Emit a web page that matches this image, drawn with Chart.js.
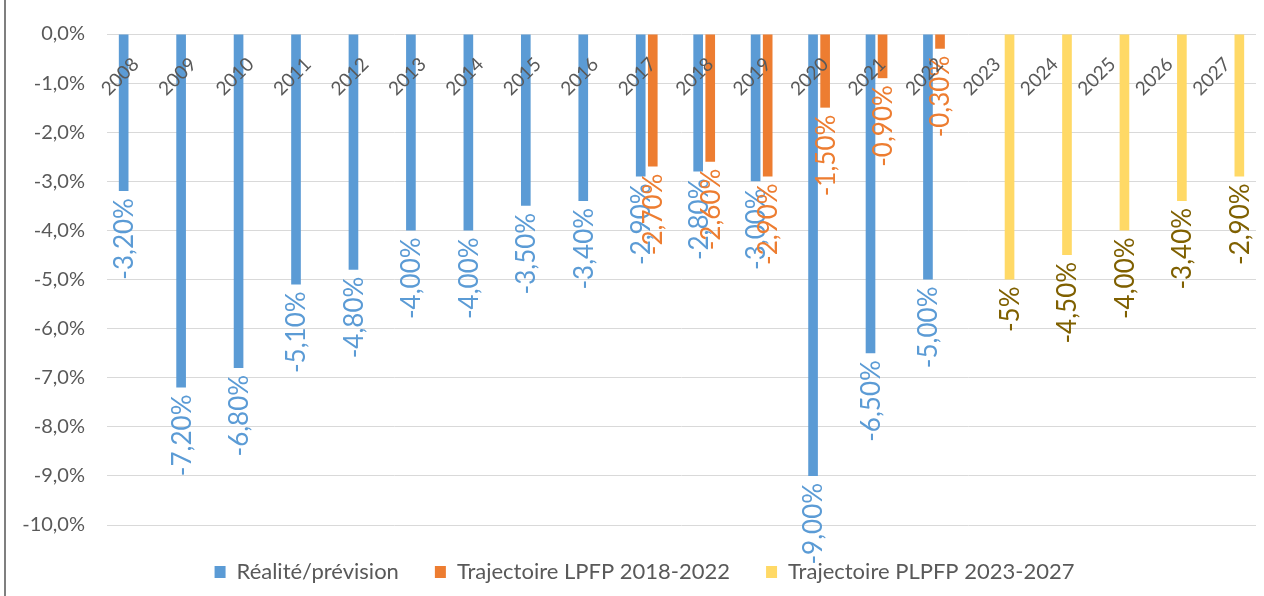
<!DOCTYPE html>
<html lang="fr">
<head>
<meta charset="utf-8">
<title>Déficit public</title>
<script src="https://cdn.jsdelivr.net/npm/chart.js@4/dist/chart.umd.min.js"></script>
<style>
  html, body { margin: 0; padding: 0; background: #fff; overflow: hidden; }
  .cadre { position: absolute; left: 4px; top: 0; width: 2px; height: 596px; background: #7f7f7f; }
  .zone { position: absolute; left: 6px; top: 0; width: 1277px; height: 593px; }
</style>
</head>
<body>
<div class="cadre"></div>
<div class="zone"><canvas id="graphique"></canvas></div>
<script>
//données (en % du PIB)
const annees = ['2008','2009','2010','2011','2012','2013','2014','2015','2016','2017',
                '2018','2019','2020','2021','2022','2023','2024','2025','2026','2027']
const realite = [-3.2, -7.2, -6.8, -5.1, -4.8, -4.0, -4.0, -3.5, -3.4, -2.9,
                 -2.8, -3.0, -9.0, -6.5, -5.0, null, null, null, null, null]
const lpfp = [null, null, null, null, null, null, null, null, null, -2.7,
              -2.6, -2.9, -1.5, -0.9, -0.3, null, null, null, null, null]
const plpfp = [null, null, null, null, null, null, null, null, null, null,
               null, null, null, null, null, -5, -4.5, -4.0, -3.4, -2.9]
const nomsSeries = ['Réalité/prévision', 'Trajectoire LPFP 2018-2022', 'Trajectoire PLPFP 2023-2027']
//2023 est affiché sans décimales dans l'original
const etiquettesSpeciales = { '2023': '-5%' }

const couleurs = ['#5B9BD5', '#ED7D31', '#FFD966']
const couleursEtiquettes = ['#5B9BD5', '#ED7D31', '#7F6000']
const gris = '#595959'
const police = 'Lato, "Open Sans", sans-serif'

function formatValeur(v) {
    return v.toFixed(2).replace('.', ',') + '%'
}

//étiquettes verticales sous chaque barre
const etiquettes = {
    id: 'etiquettes',
    afterDatasetsDraw(chart) {
        const ctx = chart.ctx
        chart.data.datasets.forEach((ds, i) => {
            const meta = chart.getDatasetMeta(i)
            meta.data.forEach((barre, j) => {
                const v = ds.data[j]
                if (v === null || v === undefined) return
                const texte = (i === 2 && etiquettesSpeciales[annees[j]]) || formatValeur(v)
                ctx.save()
                ctx.translate(barre.x + 1, barre.y + 7)
                ctx.rotate(-Math.PI / 2)
                ctx.textAlign = 'right'
                ctx.textBaseline = 'middle'
                ctx.fillStyle = couleursEtiquettes[i]
                ctx.font = '26px ' + police
                ctx.fillText(texte, 0, 0)
                ctx.restore()
            })
        })
    }
}

const canva = document.querySelector('#graphique')
const myChart = new Chart(canva, {
    type: 'bar',
    data: {
        labels: annees,
        datasets: [
            { label: nomsSeries[0], data: realite, backgroundColor: couleurs[0] },
            { label: nomsSeries[1], data: lpfp, backgroundColor: couleurs[1] },
            { label: nomsSeries[2], data: plpfp, backgroundColor: couleurs[2] }
        ]
    },
    options: {
        responsive: true,
        maintainAspectRatio: false,
        animation: false,
        categoryPercentage: 0.63,
        barPercentage: 0.8,
        layout: { padding: { top: 32, right: 0, bottom: 0, left: 0 } },
        scales: {
            x: {
                position: { y: 0 },
                grid: { display: false, drawTicks: false },
                border: { display: false },
                ticks: {
                    z: 1,
                    autoSkip: false,
                    minRotation: 45,
                    maxRotation: 45,
                    padding: 19,
                    color: gris,
                    font: { family: police, size: 19 }
                }
            },
            y: {
                min: -10,
                max: 0,
                afterFit(s) { s.width = 101 },
                grid: { color: '#d9d9d9', drawTicks: false },
                border: { display: false },
                ticks: {
                    stepSize: 1,
                    padding: 22,
                    color: gris,
                    font: { family: police, size: 20 },
                    callback: v => v.toFixed(1).replace('.', ',').replace('-0,0', '0,0') + '%'
                }
            },
            //axe vide à droite pour décaler la légende comme dans l'original
            droite: {
                type: 'linear',
                position: 'right',
                display: true,
                afterFit(s) { s.width = 27 },
                grid: { display: false, drawTicks: false },
                border: { display: false },
                ticks: { display: false }
            }
        },
        plugins: {
            legend: {
                position: 'bottom',
                labels: {
                    boxWidth: 11,
                    boxHeight: 12,
                    padding: 36,
                    color: gris,
                    font: { family: police, size: 22 }
                }
            },
            tooltip: { enabled: false }
        }
    },
    plugins: [etiquettes]
})
</script>
</body>
</html>
